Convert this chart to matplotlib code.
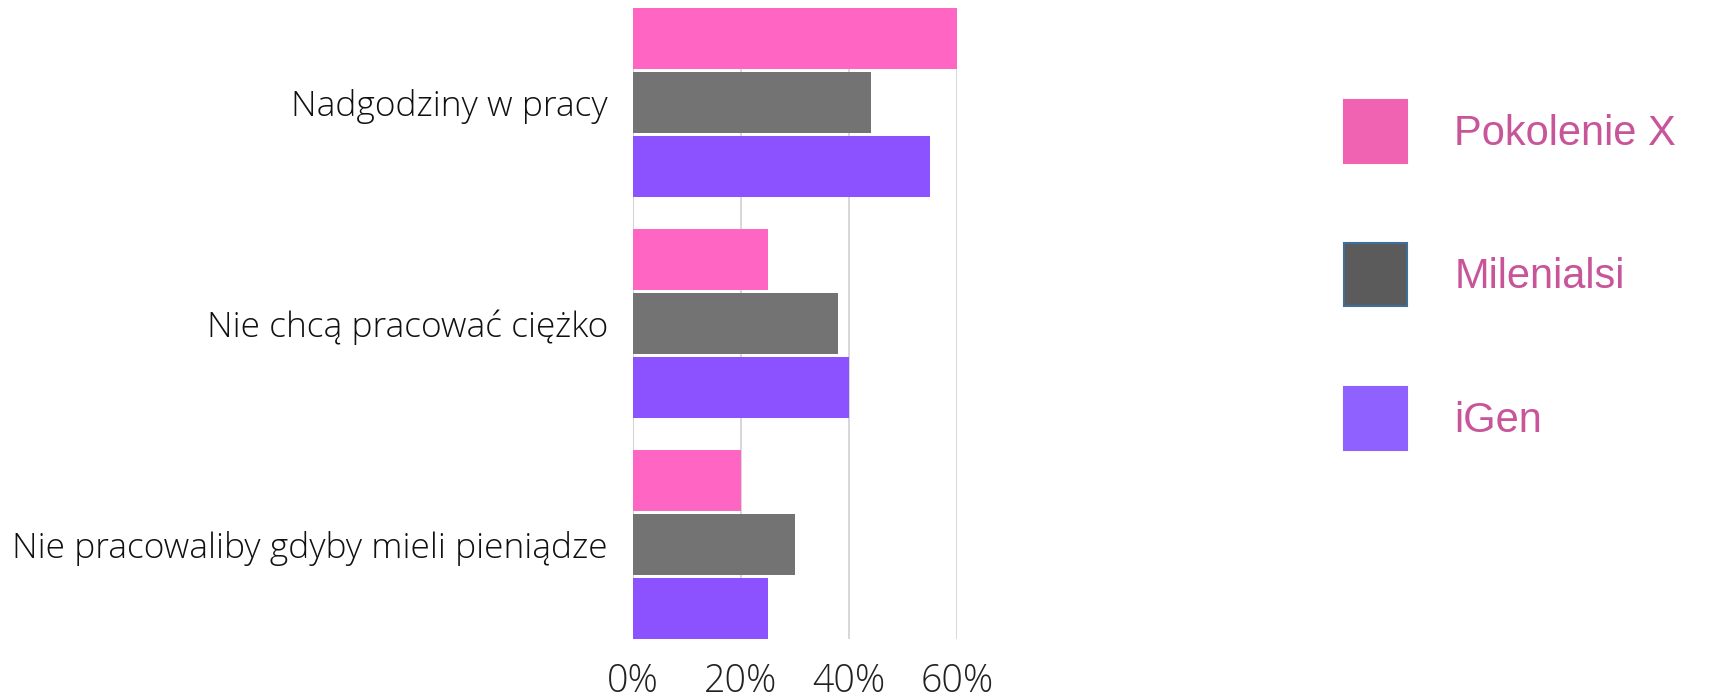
import matplotlib.pyplot as plt
import numpy as np
from matplotlib.patches import Patch

categories = ['Nadgodziny w pracy', 'Nie chcą pracować ciężko', 'Nie pracowaliby gdyby mieli pieniądze']
series = ['Pokolenie X', 'Milenialsi', 'iGen']
pokolenie_x = [60, 25, 20]
milenialsi = [44, 38, 30]
igen = [55, 40, 25]
ticks = [0, 20, 40, 60]
tick_labels = ['0%', '20%', '40%', '60%']

bar_colors = ['#ff66c4', '#737373', '#8c52ff']
legend_colors = ['#f062b2', '#5b5b5b', '#8f62ff']
legend_edges = ['#f062b2', '#3f6e9a', '#8f62ff']

fig = plt.figure(figsize=(17.19, 6.98), dpi=100)
ax = fig.add_axes([633 / 1719, 1 - 639 / 698, (957 - 633) / 1719, 631 / 698])

y = np.arange(len(categories))
pitch = 0.29
h = 0.276
for i, vals in enumerate([pokolenie_x, milenialsi, igen]):
    ax.barh(y + (i - 1) * pitch, vals, height=h, color=bar_colors[i], zorder=2)

ax.set_xlim(0, 60)
ax.set_ylim(2 + pitch + h / 2, -pitch - h / 2)
ax.set_xticks(ticks)
ax.set_xticklabels(tick_labels, fontsize=27, fontfamily='Open Sans', fontweight='light', color='#222222')
ax.set_yticks(y)
ax.set_yticklabels(categories, fontsize=25.5, fontfamily='Open Sans', fontweight='light', color='#111111')
ax.tick_params(axis='x', length=0, pad=17)
ax.tick_params(axis='y', length=0, pad=18)
ax.grid(axis='x', color='#d4d4d4', linewidth=1.3, zorder=0)
ax.axvline(0, color='#d4d4d4', linewidth=1.3, zorder=1)
for s in ax.spines.values():
    s.set_visible(False)

handles = [Patch(facecolor=legend_colors[i], edgecolor=legend_edges[i], linewidth=1.5) for i in range(3)]
fig.legend(handles, series, loc='upper left', bbox_to_anchor=(1344 / 1719, 1 - 100 / 698),
           frameon=False, borderpad=0, borderaxespad=0, prop={'family': 'Liberation Sans', 'size': 30},
           labelcolor='#c8559a', handlelength=1.5, handleheight=1.95, labelspacing=1.93, handletextpad=1.15)

fig.savefig('out.png', dpi=100)
